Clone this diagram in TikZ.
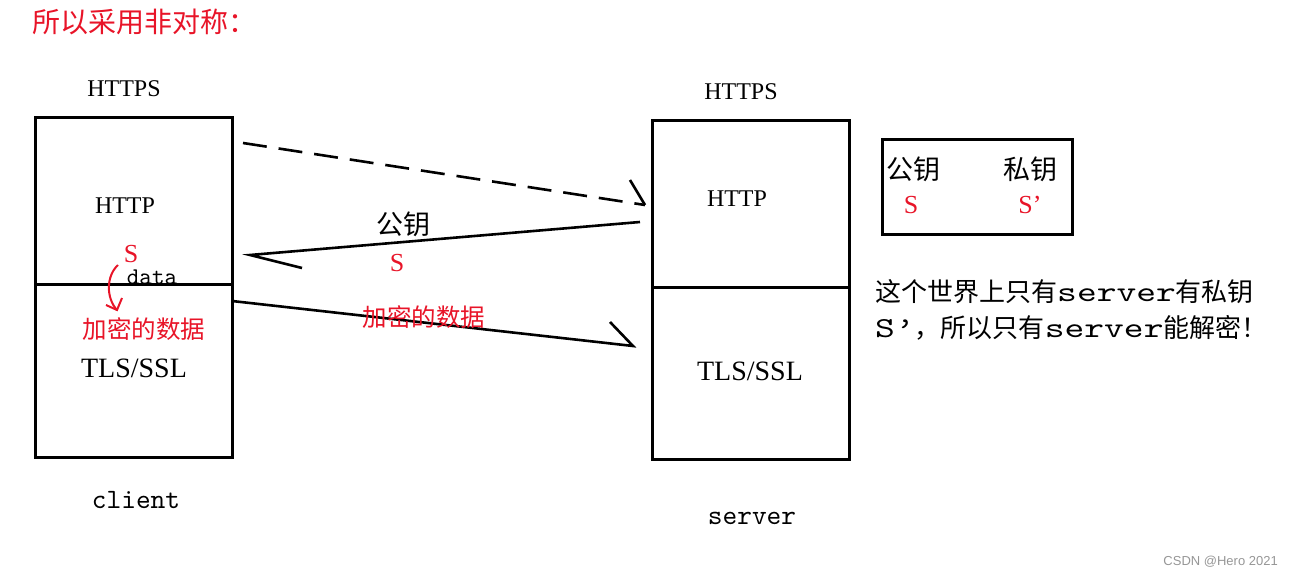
\documentclass[tikz,border=0pt]{standalone}
\usepackage{fontspec}
\setmainfont{Liberation Serif}
\newfontfamily\cjk{Noto Sans CJK SC}
\newfontfamily\wmono[FakeStretch=1.3]{lmmono10-regular.otf}
\newfontfamily\nmono{lmmono10-regular.otf}
\newfontfamily\wsans{Liberation Sans}
\definecolor{myred}{RGB}{232,20,40}
\definecolor{wmgray}{RGB}{150,150,150}
\newcommand{\fs}[1]{\fontsize{#1}{#1}\selectfont}
\begin{document}
\begin{tikzpicture}[x=1pt,y=-1pt,
  box/.style={draw,line width=3pt,inner sep=0pt},
  lbl/.style={inner sep=0pt,font=\fs{24}},
  cjklbl/.style={inner sep=0pt,font=\cjk\fs{27}},
  redcjk/.style={inner sep=0pt,font=\cjk\fs{24.5},text=myred},
  reds/.style={inner sep=0pt,font=\fs{26},text=myred},
  monolbl/.style={inner sep=0pt,font=\nmono\fs{28}},
  wire/.style={line width=2.6pt},
]
\useasboundingbox (0,0) rectangle (1294,577);

% title
\node[inner sep=0pt,anchor=west,font=\cjk\fs{28},text=myred] (title) at (32,22) {所以采用非对称：};

% client box
\node[box,minimum width=197pt,minimum height=339pt] (client) at (133.5,287.5) {};
\coordinate (cdl) at (35,285);
\coordinate (cdr) at (232,285);
\draw[line width=3pt] (cdl) -- (cdr);
\node[lbl] (chttps) at (124,89) {HTTPS};
\node[lbl] (chttp) at (125,206) {HTTP};
\node[reds] (cs) at (131,254) {S};
\node[inner sep=0pt,font=\nmono\fs{24}] (cdata) at (152,277) {data};
\node[redcjk] (cenc) at (144,329) {加密的数据};
\node[inner sep=0pt,font=\fs{28}] (ctls) at (134,368) {TLS/SSL};
\node[monolbl] (clabel) at (136,500) {client};

% red curved arrow
\coordinate (ra) at (118,265);
\coordinate (rb) at (117,310);
\coordinate (rb1) at (106,305);
\coordinate (rb2) at (122,298);
\draw[myred,line width=2pt] (ra) .. controls (106,276) and (106,298) .. (rb);
\draw[myred,line width=2pt] (rb1) -- (rb) -- (rb2);

% server box
\node[box,minimum width=197pt,minimum height=338pt] (server) at (750.5,290) {};
\coordinate (sdl) at (652,288);
\coordinate (sdr) at (849,288);
\draw[line width=3pt] (sdl) -- (sdr);
\node[lbl] (shttps) at (741,92) {HTTPS};
\node[lbl] (shttp) at (737,199) {HTTP};
\node[inner sep=0pt,font=\fs{28}] (stls) at (750,371) {TLS/SSL};
\node[monolbl] (slabel) at (752,518) {server};

% dashed request arrow
\coordinate (d1) at (243,143);
\coordinate (d2) at (645,205);
\coordinate (d3) at (630,180);
\draw[wire,dash pattern=on 24pt off 12pt] (d1) -- (d2);
\draw[wire] (d3) -- (d2);

% public key arrow
\coordinate (k1) at (640,222);
\coordinate (k2) at (250,255);
\coordinate (k3) at (302,268);
\draw[wire] (k1) -- (k2) -- (k3);
\node[cjklbl] (pk) at (403,224) {公钥};
\node[reds] (pks) at (397,263) {S};

% encrypted data arrow
\coordinate (e1) at (232,301);
\coordinate (e2) at (633,346);
\coordinate (e3) at (610,322);
\draw[wire] (e1) -- (e2) -- (e3);
\node[redcjk] (menc) at (424,317) {加密的数据};

% key box
\node[box,minimum width=190pt,minimum height=95pt] (keys) at (977,187.5) {};
\node[cjklbl] (kpub) at (913,169) {公钥};
\node[cjklbl] (kpri) at (1030,169) {私钥};
\node[reds] (kpubs) at (911,205) {S};
\node[reds] (kpris) at (1030,205) {S’};

% explanation
\node[inner sep=0pt,anchor=west,font=\cjk\fs{26}] (line1) at (875,292) {这个世界上只有{\wmono\fs{29}server}有私钥};
\node[inner sep=0pt,anchor=west,font=\cjk\fs{26}] (line2) at (875,328) {{\wmono\fs{29}S’}，所以只有{\wmono\fs{29}server}能解密！};

% watermark
\node[inner sep=0pt,anchor=east,font=\wsans\fs{13},text=wmgray] (wm) at (1278,562) {CSDN @Hero 2021};
\end{tikzpicture}
\end{document}
